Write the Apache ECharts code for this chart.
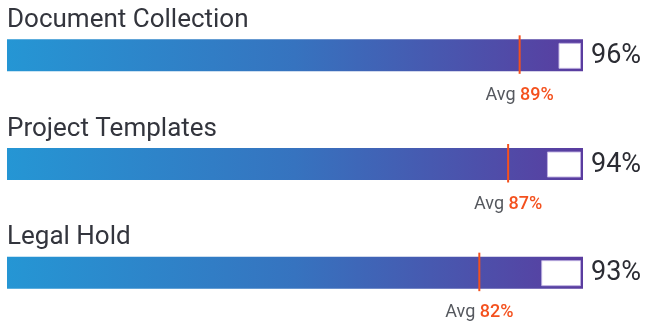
<!DOCTYPE html>
<html>
<head>
<meta charset="utf-8">
<script src="https://cdn.jsdelivr.net/npm/echarts@6/dist/echarts.min.js"></script>
<style>
  html, body { margin: 0; padding: 0; background: #fff; }
  #chart { width: 645px; height: 327px; }
</style>
</head>
<body>
<div id="chart"></div>
<script>
// Adoption rate per feature, against the overall average
const categories = ['Document Collection', 'Project Templates', 'Legal Hold'];
const scores = [96, 94, 93];
const averages = [89, 87, 82];
const scaleMax = 100;

const FONT = 'Roboto, "Noto Sans", sans-serif';
const chart = echarts.init(document.getElementById('chart'), null, { renderer: 'canvas' });

const overlayData = categories.map((c, i) => [scores[i], i, averages[i]]);

function renderRow(params, api) {
  const idx = api.value(1);
  const val = api.value(0);
  const avg = api.value(2);
  const start = api.coord([val, idx]);
  const end = api.coord([scaleMax, idx]);
  const origin = api.coord([0, idx]);
  const avgPt = api.coord([avg, idx]);
  const cy = start[1];
  return {
    type: 'group',
    children: [
      // unfilled remainder of the track
      {
        type: 'rect',
        shape: { x: start[0] - 1, y: cy - 12, width: end[0] - 2.5 - (start[0] - 1), height: 25 },
        style: { fill: '#ffffff', stroke: 'rgba(190,175,225,0.9)', lineWidth: 1 }
      },
      // average marker
      {
        type: 'line',
        shape: { x1: avgPt[0], y1: cy - 20, x2: avgPt[0], y2: cy + 18.5 },
        style: { stroke: '#f4511e', lineWidth: 2 }
      },
      {
        type: 'text',
        x: avgPt[0], y: cy + 40,
        style: {
          text: '{a|Avg }{b|' + avg + '%}',
          align: 'center', verticalAlign: 'middle',
          rich: {
            a: { fontFamily: FONT, fontSize: 18, fill: '#55585e' },
            b: { fontFamily: FONT, fontSize: 18, fontWeight: 500, fill: '#f4511e' }
          }
        }
      },
      // score
      {
        type: 'text',
        x: end[0] + 8, y: cy + 1,
        style: {
          text: val + '%', fontFamily: FONT, fontSize: 27, fill: '#2b2c33',
          align: 'left', verticalAlign: 'middle'
        }
      },
      // feature name
      {
        type: 'text',
        x: origin[0], y: cy - 35,
        style: {
          text: categories[idx], fontFamily: FONT, fontSize: 26, fill: '#33353d',
          align: 'left', verticalAlign: 'middle'
        }
      }
    ]
  };
}

chart.setOption({
  animation: false,
  grid: { left: 7, width: 576, top: 1, height: 330 },
  xAxis: { type: 'value', min: 0, max: scaleMax, show: false },
  yAxis: { type: 'category', data: categories, inverse: true, show: false },
  series: [
    {
      name: 'track',
      type: 'bar',
      data: categories.map(() => scaleMax),
      barWidth: 32,
      silent: true,
      itemStyle: {
        color: new echarts.graphic.LinearGradient(0, 0, 1, 0, [
          { offset: 0, color: '#2596d4' },
          { offset: 0.5, color: '#3673bf' },
          { offset: 1, color: '#5a3c9f' }
        ])
      }
    },
    {
      name: 'score',
      type: 'custom',
      renderItem: renderRow,
      encode: { x: 0, y: 1 },
      data: overlayData,
      z: 3
    }
  ]
});
</script>
</body>
</html>
